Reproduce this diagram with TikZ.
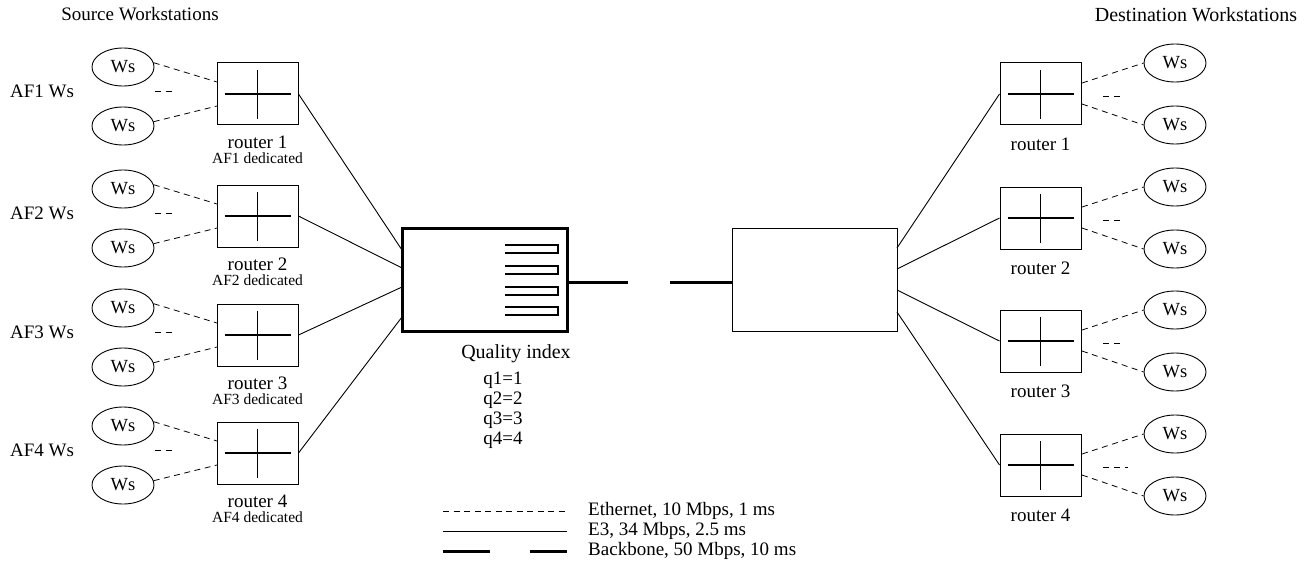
\documentclass[tikz,border=0pt]{standalone}
\usepackage{fontspec}
\setmainfont{Liberation Serif}
\usetikzlibrary{shapes.geometric}
\begin{document}
\begin{tikzpicture}[x=1pt,y=-1pt,
  txt/.style={font=\fontsize{19}{19}\selectfont, inner sep=0pt},
  small/.style={font=\fontsize{15.5}{15.5}\selectfont, inner sep=0pt},
  ws/.style={ellipse, draw, line width=0.9pt, minimum width=62pt, minimum height=38pt,
    inner sep=0pt, font=\fontsize{18.5}{18.5}\selectfont},
  router/.style={draw, line width=1pt, minimum width=81pt, minimum height=62pt, inner sep=0pt,
    path picture={
      \draw[line width=1.1pt] ([xshift=-33pt]path picture bounding box.center) -- ([xshift=33pt]path picture bounding box.center);
      \draw[line width=1.1pt] ([yshift=-25pt]path picture bounding box.center) -- ([yshift=24pt]path picture bounding box.center);
    }},
  hub/.style={draw, minimum width=165pt, minimum height=103pt, inner sep=0pt},
  eth/.style={line width=0.8pt, dash pattern=on 6pt off 4.5pt},
  gap/.style={line width=0.8pt, dash pattern=on 6pt off 5pt},
  e3/.style={line width=0.9pt},
  bb/.style={line width=3pt},
]
\useasboundingbox (0,0) rectangle (1305,572);

% headings
\node[txt] (srchead) at (140,14) {Source Workstations};
\node[txt, font=\fontsize{20}{20}\selectfont] (dsthead) at (1196,15) {Destination Workstations};

% aggregation router with its four queues
\node[hub, line width=3pt] (qbox) at (484.5,279.5) {};
\foreach \t in {245,266,287,307}
  \draw[line width=1.1pt] (505,\t) -- (558,\t) -- (558,\t+8) -- (505,\t+8);
\node[txt, font=\fontsize{20}{20}\selectfont] (qidx) at (516,354) {Quality index};
\node[txt] (q1) at (503,380) {q1=1};
\node[txt] (q2) at (503,400) {q2=2};
\node[txt] (q3) at (503,420) {q3=3};
\node[txt] (q4) at (503,440) {q4=4};

% egress router
\node[hub, line width=1pt] (rbox) at (814.5,279.5) {};

% backbone link (broken)
\coordinate (bbl) at (628,282);
\coordinate (bbr) at (670,282);
\draw[bb] (qbox.east |- bbl) -- (bbl);
\draw[bb] (bbr) -- (rbox.west |- bbr);

% attachment points on the hubs
\coordinate (qin1) at (402,250);
\coordinate (qin2) at (402,268);
\coordinate (qin3) at (402,287);
\coordinate (qin4) at (402,317);
\coordinate (rin1) at (897,248);
\coordinate (rin2) at (897,269);
\coordinate (rin3) at (897,290);
\coordinate (rin4) at (897,312);

% source side
\foreach \i/\c in {1/94,2/216,3/335,4/453} {
  \node[router] (L\i) at (257.5,\c) {};
  \node[ws] (lwa\i) at (123,{\c-27}) {Ws};
  \node[ws] (lwb\i) at (123,{\c+32}) {Ws};
  \node[txt] (laf\i) at (42,{\c-3}) {AF\i{} Ws};
  \node[txt] (lr\i) at (257.5,{\c+48}) {router \i};
  \node[small] (ld\i) at (257.5,{\c+64}) {AF\i{} dedicated};
  \coordinate (lpa\i) at (217,{\c-12});
  \coordinate (lpb\i) at (217,{\c+12});
  \coordinate (lma\i) at (155,{\c-3});
  \coordinate (lmb\i) at (172,{\c-3});
  \draw[eth] (lwa\i.8) -- (lpa\i);
  \draw[eth] (lwb\i.8) -- (lpb\i);
  \draw[gap] (lma\i) -- (lmb\i);
  \draw[e3] (L\i.east) -- (qin\i);
}

% destination side
\foreach \i/\c/\e in {1/94/1120,2/218/1120,3/341/1120,4/465/1128} {
  \node[router] (R\i) at (1040.5,\c) {};
  \node[ws] (rwa\i) at (1175,{\c-31}) {Ws};
  \node[ws] (rwb\i) at (1175,{\c+31}) {Ws};
  \node[txt] (rr\i) at (1040.5,{\c+50}) {router \i};
  \coordinate (rpa\i) at (1082,{\c-11});
  \coordinate (rpb\i) at (1082,{\c+10});
  \coordinate (rma\i) at (1103,{\c+2});
  \coordinate (rmb\i) at (\e,{\c+2});
  \draw[eth] (rpa\i) -- (rwa\i.west);
  \draw[eth] (rpb\i) -- (rwb\i.west);
  \draw[gap] (rma\i) -- (rmb\i);
  \draw[e3] (rin\i) -- (R\i.west);
}

% legend
\coordinate (ka1) at (443,511); \coordinate (kb1) at (567,511);
\coordinate (ka2) at (443,531); \coordinate (kb2) at (567,531);
\coordinate (ka3) at (443,551); \coordinate (kb3) at (567,551);
\draw[eth] (ka1) -- (kb1);
\draw[e3] (ka2) -- (kb2);
\draw[bb, dash pattern=on 47pt off 40pt] (ka3) -- (kb3);
\node[txt, anchor=west] (k1) at (588,511) {Ethernet, 10 Mbps, 1 ms};
\node[txt, anchor=west] (k2) at (588,531) {E3, 34 Mbps, 2.5 ms};
\node[txt, anchor=west] (k3) at (588,551) {Backbone, 50 Mbps, 10 ms};
\end{tikzpicture}
\end{document}
